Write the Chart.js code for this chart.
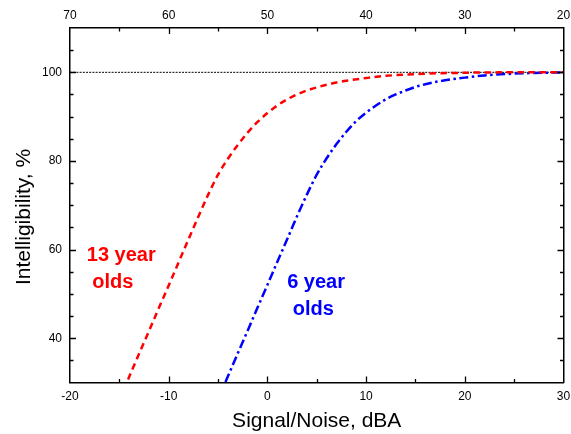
<!DOCTYPE html>
<html>
<head>
<meta charset="utf-8">
<script src="https://cdn.jsdelivr.net/npm/chart.js@4"></script>
<style>
  html, body { margin: 0; padding: 0; background: #fff; }
  #wrap { width: 571px; height: 434px; }
</style>
</head>
<body>
<div id="wrap"><canvas id="c" width="571" height="434"></canvas></div>
<script>
// Speech intelligibility vs. signal-to-noise ratio
const snr13   = [-15, -14, -13, -12, -11, -10, -9, -8, -7, -6, -5, -4, -3, -2, -1, 0, 1, 2, 3, 4, 5, 6, 7, 8, 10, 12, 15, 20, 25, 30];
const intel13 = [26.1, 31.3, 36.5, 41.6, 46.8, 51.9, 57.1, 62.3, 67.4, 72.4, 76.9, 80.5, 83.6, 86.4, 88.8, 90.8, 92.5, 93.9, 95.0, 95.9, 96.6, 97.2, 97.7, 98.1, 98.7, 99.2, 99.6, 99.9, 100, 100];
const snr6    = [-5, -4, -3, -2, -1, 0, 1, 2, 3, 4, 5, 6, 7, 8, 9, 10, 11, 12, 13, 14, 15, 16, 17, 18, 20, 22, 25, 30];
const intel6  = [26.3, 31.4, 36.6, 41.7, 46.9, 52.0, 57.2, 62.3, 67.5, 72.4, 76.9, 80.6, 83.8, 86.6, 89.0, 90.9, 92.5, 93.9, 95.0, 95.9, 96.7, 97.3, 97.8, 98.2, 98.8, 99.3, 99.7, 100];
const fullScore = 100;

const seriesNames = ['13 year olds', '6 year olds'];
const labelLines  = [['13 year', ' olds'], ['6 year', ' olds']];
const labelX      = [-18.3, 2.0];
const labelY      = [57.4, 51.4];

const xTicks   = [-20, -10, 0, 10, 20, 30];
const topTicks = [70, 60, 50, 40, 30, 20];
const yTicks   = [40, 60, 80, 100];
const xTitle = 'Signal/Noise, dBA';
const yTitle = 'Intelligibility, %';

const RED = '#ff0000', BLUE = '#0000ff', INK = '#000000';
const FONT = 'Arial, "Liberation Sans", sans-serif';

const pts = (xs, ys) => xs.map((x, i) => ({ x, y: ys[i] }));

// fixed box sizes around the plot so the frame lands where it should
function fixSize(w, h) {
  return function (scale) {
    if (w !== null) scale.width = w;
    if (h !== null) scale.height = h;
    scale.paddingLeft = scale.paddingRight = scale.paddingTop = scale.paddingBottom = 0;
  };
}
const useTicks = vals => scale => { scale.ticks = vals.map(v => ({ value: v })); };

// inward tick marks on all four sides, annotations and the vertical title
const framePlugin = {
  id: 'frame',
  afterDatasetsDraw(chart) {
    const { ctx, chartArea: a, scales } = chart;
    ctx.save();
    ctx.strokeStyle = INK;
    ctx.lineWidth = 1.3;
    ctx.beginPath();
    for (let v = -15; v < 30; v += 5) {
      const p = Math.round(scales.x.getPixelForValue(v)) + 0.5;
      const len = v % 10 === 0 ? 6 : 3.5;
      ctx.moveTo(p, a.bottom); ctx.lineTo(p, a.bottom - len);
    }
    for (let v = 25; v < 70; v += 5) {
      const p = Math.round(scales.x2.getPixelForValue(v)) + 0.5;
      const len = v % 10 === 0 ? 6 : 3.5;
      ctx.moveTo(p, a.top); ctx.lineTo(p, a.top + len);
    }
    for (let v = 35; v < 110; v += 5) {
      const len = v % 20 === 0 ? 6 : 3.5;
      const p = Math.round(scales.y.getPixelForValue(v)) + 0.5;
      ctx.moveTo(a.left, p); ctx.lineTo(a.left + len, p);
      const q = Math.round(scales.y2.getPixelForValue(v)) + 0.5;
      ctx.moveTo(a.right, q); ctx.lineTo(a.right - len, q);
    }
    ctx.stroke();

    // series annotations
    ctx.font = 'bold 20px ' + FONT;
    ctx.textAlign = 'left';
    ctx.textBaseline = 'alphabetic';
    [RED, BLUE].forEach((col, i) => {
      ctx.fillStyle = col;
      const x0 = scales.x.getPixelForValue(labelX[i]);
      const y0 = scales.y.getPixelForValue(labelY[i]);
      labelLines[i].forEach((t, k) => ctx.fillText(t, x0, y0 + k * 27));
    });

    // vertical axis title, centred on the canvas height
    ctx.font = '21px ' + FONT;
    ctx.fillStyle = INK;
    ctx.textAlign = 'center';
    ctx.textBaseline = 'middle';
    ctx.translate(24, chart.height / 2);
    ctx.rotate(-Math.PI / 2);
    ctx.fillText(yTitle, 0, 0);
    ctx.restore();
  }
};

const tickFont = { family: FONT, size: 12 };

new Chart(document.getElementById('c'), {
  type: 'line',
  data: {
    datasets: [
      {
        label: seriesNames[0],
        data: pts(snr13, intel13),
        borderColor: RED,
        borderWidth: 2.5,
        borderDash: [6.5, 4.5],
        pointRadius: 0,
        cubicInterpolationMode: 'monotone',
        fill: false
      },
      {
        label: seriesNames[1],
        data: pts(snr6, intel6),
        borderColor: BLUE,
        borderWidth: 2.5,
        borderDash: [9, 3.5, 2.5, 3.5],
        pointRadius: 0,
        cubicInterpolationMode: 'monotone',
        fill: false
      },
      {
        label: 'Full score',
        data: pts([xTicks[0], xTicks[xTicks.length - 1]], [fullScore, fullScore]),
        borderColor: INK,
        borderWidth: 1,
        borderDash: [2, 1.2],
        pointRadius: 0
      }
    ]
  },
  options: {
    responsive: false,
    animation: false,
    devicePixelRatio: 1,
    layout: { padding: { left: 0, right: 7.5, top: 0, bottom: 0 } },
    plugins: { legend: { display: false }, tooltip: { enabled: false } },
    scales: {
      x: {
        type: 'linear', position: 'bottom', min: -20, max: 30,
        afterBuildTicks: useTicks(xTicks),
        afterFit: fixSize(null, 51.5),
        grid: { display: false, drawTicks: false },
        border: { display: true, color: INK, width: 1.5 },
        ticks: { color: INK, font: tickFont, padding: 7, maxRotation: 0, autoSkip: false },
        title: { display: true, text: xTitle, color: INK, font: { family: FONT, size: 21 }, padding: { top: 0, bottom: 0 } }
      },
      x2: {
        type: 'linear', position: 'top', min: 20, max: 70, reverse: true,
        afterBuildTicks: useTicks(topTicks),
        afterFit: fixSize(null, 28),
        grid: { display: false, drawTicks: false },
        border: { display: true, color: INK, width: 1.5 },
        ticks: { color: INK, font: tickFont, padding: 5, maxRotation: 0, autoSkip: false }
      },
      y: {
        type: 'linear', position: 'left', min: 30, max: 110,
        afterBuildTicks: useTicks(yTicks),
        afterFit: fixSize(70, null),
        grid: { display: false, drawTicks: false },
        border: { display: true, color: INK, width: 1.5 },
        ticks: { color: INK, font: tickFont, padding: 8 }
      },
      y2: {
        type: 'linear', position: 'right', min: 30, max: 110,
        afterFit: fixSize(0, null),
        grid: { display: false, drawTicks: false },
        border: { display: true, color: INK, width: 1.5 },
        ticks: { display: false }
      }
    }
  },
  plugins: [framePlugin]
});
</script>
</body>
</html>
